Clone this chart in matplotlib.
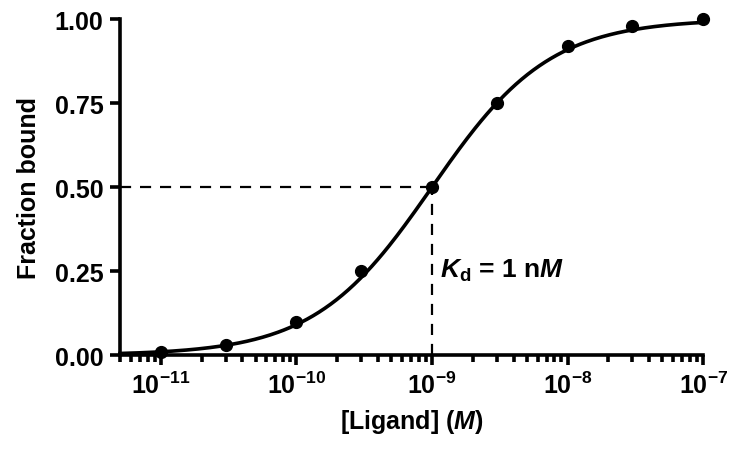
import numpy as np
import matplotlib.pyplot as plt
from matplotlib.ticker import FixedLocator, NullFormatter

plt.rcParams['font.family'] = ['Liberation Sans', 'DejaVu Sans']
plt.rcParams['font.weight'] = 'bold'
plt.rcParams['mathtext.fontset'] = 'custom'
plt.rcParams['mathtext.rm'] = 'Liberation Sans:bold'
plt.rcParams['mathtext.it'] = 'Liberation Sans:bold:italic'
plt.rcParams['mathtext.bf'] = 'Liberation Sans:bold'

# measured points
ligand = [1e-11, 3e-11, 1e-10, 3e-10, 1e-9, 3e-9, 1e-8, 3e-8, 1e-7]
fraction = [0.01, 0.03, 0.10, 0.25, 0.50, 0.75, 0.92, 0.98, 1.00]
Kd = 1e-9
yticks = [0.0, 0.25, 0.5, 0.75, 1.0]
xdecades = [-11, -10, -9, -8, -7]

# fitted binding curve
L = np.logspace(np.log10(5e-12), -7, 300)
fit = L / (L + Kd)

fig = plt.figure(figsize=(7.41, 4.56), dpi=100)
ax = fig.add_axes([0.162, 0.219, 0.787, 0.737])

ax.plot(L, fit, color='black', lw=2.6, clip_on=False, zorder=3)
ax.plot(ligand, fraction, 'o', color='black', ms=8.5, clip_on=False, zorder=4)

# Kd guide lines
ax.plot([5e-12, Kd], [0.5, 0.5], color='black', lw=1.6, dashes=(5, 4))
ax.plot([Kd, Kd], [0, 0.5], color='black', lw=1.6, dashes=(5, 4))
ax.text(1.15e-9, 0.255, r'$K_{\mathrm{d}}$ = 1 n$M$', fontsize=19,
        fontweight='bold', va='center', ha='left')

ax.set_xscale('log')
ax.set_xlim(5e-12, 1e-7)
ax.set_ylim(0, 1.0)
ax.set_yticks(yticks)
ax.set_yticklabels(['%.2f' % t for t in yticks])

major = [10.0 ** d for d in xdecades]
minor = [m * 10.0 ** d for d in range(-12, -7) for m in range(2, 10)]
minor = [v for v in minor if 5e-12 <= v <= 1e-7]
ax.xaxis.set_major_locator(FixedLocator(major))
ax.set_xticklabels([r'$10^{%d}$' % d for d in xdecades])
ax.xaxis.set_minor_locator(FixedLocator(minor))
ax.xaxis.set_minor_formatter(NullFormatter())

for s in ['top', 'right']:
    ax.spines[s].set_visible(False)
for s in ['left', 'bottom']:
    ax.spines[s].set_linewidth(2.6)

ax.tick_params(axis='both', which='major', direction='out', length=7, width=2.6,
               labelsize=18, pad=5)
ax.tick_params(axis='x', which='minor', direction='out', length=5, width=2.6)

ax.set_xlabel(r'[Ligand] ($M$)', fontsize=18, fontweight='bold', labelpad=6)
ax.set_ylabel('Fraction bound', fontsize=18, fontweight='bold', labelpad=10)

fig.savefig('out.png', dpi=100)
